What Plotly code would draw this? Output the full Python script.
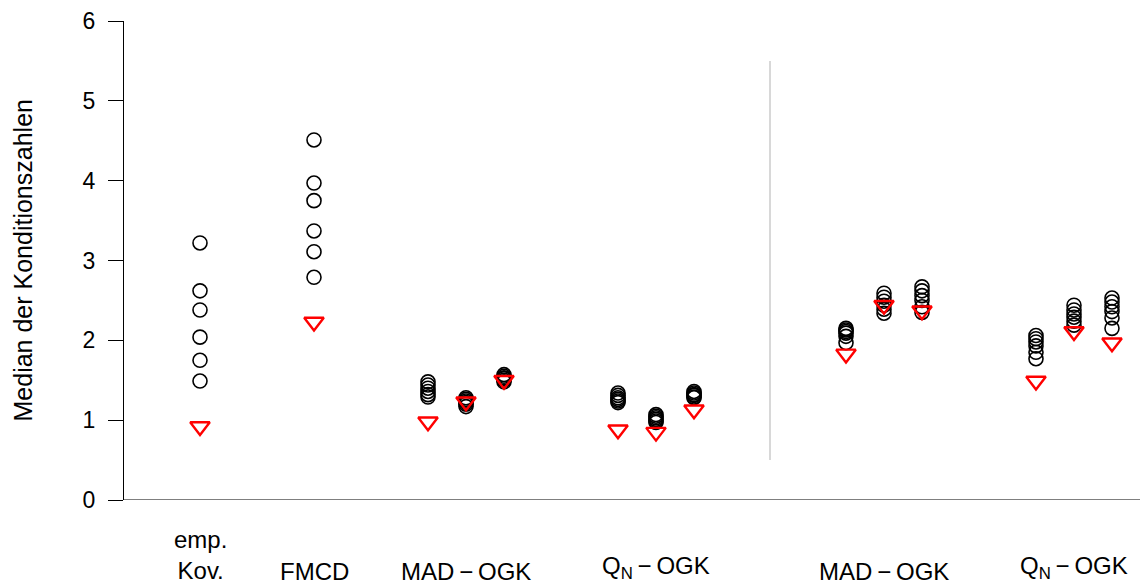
import plotly.graph_objects as go

# Median condition numbers per estimator group (open circles) and the
# reference value for each group (red triangles).
group_labels = ["emp. Kov.", "FMCD",
                "MAD-OGK a", "MAD-OGK b", "MAD-OGK c",
                "QN-OGK a", "QN-OGK b", "QN-OGK c",
                "MAD-OGK d", "MAD-OGK e", "MAD-OGK f",
                "QN-OGK d", "QN-OGK e", "QN-OGK f"]

circle_values = [
    [3.22, 2.62, 2.38, 2.04, 1.75, 1.49],
    [4.51, 3.97, 3.75, 3.37, 3.11, 2.79],
    [1.48, 1.44, 1.40, 1.36, 1.32, 1.29],
    [1.28, 1.26, 1.24, 1.22, 1.20, 1.17],
    [1.57, 1.55, 1.53, 1.52, 1.50, 1.48],
    [1.34, 1.31, 1.28, 1.26, 1.24, 1.22],
    [1.07, 1.05, 1.03, 1.01, 0.99, 0.97],
    [1.36, 1.34, 1.32, 1.31, 1.29, 1.28],
    [2.15, 2.13, 2.11, 2.09, 2.05, 1.97],
    [2.59, 2.54, 2.49, 2.44, 2.39, 2.34],
    [2.67, 2.62, 2.56, 2.50, 2.42, 2.35],
    [2.06, 2.02, 1.98, 1.93, 1.85, 1.77],
    [2.44, 2.38, 2.33, 2.29, 2.24, 2.19],
    [2.53, 2.48, 2.42, 2.36, 2.28, 2.15],
]

triangle_values = [0.92, 2.23, 0.98, 1.23, 1.50, 0.88, 0.85, 1.13,
                   1.83, 2.44, 2.37, 1.49, 2.11, 1.97]

y_ticks = [0, 1, 2, 3, 4, 5, 6]
y_title = "Median der Konditionszahlen"

# Horizontal slot of each group on the x scale
slots = [1, 4, 7, 8, 9, 12, 13, 14, 18, 19, 20, 23, 24, 25]
divider_slot = 16

# Category captions under the axis: (text, slot, vertical shift in px)
captions = [
    ("emp.<br>Kov.", 1, -55),
    ("FMCD", 4, -71),
    ("MAD\u2009\u2212\u2009OGK", 8, -71),
    ("Q<sub>N</sub>\u2009\u2212\u2009OGK", 13, -67),
    ("MAD\u2009\u2212\u2009OGK", 19, -71),
    ("Q<sub>N</sub>\u2009\u2212\u2009OGK", 24, -67),
]

FONT = "Liberation Sans, Arial, sans-serif"

fig = go.Figure()

cx, cy = [], []
for s, vals in zip(slots, circle_values):
    cx += [s] * len(vals)
    cy += vals

fig.add_trace(go.Scatter(
    x=cx, y=cy, mode="markers", cliponaxis=False, showlegend=False,
    marker=dict(symbol="circle-open", size=14, color="black",
                line=dict(width=1.6, color="black")),
))

fig.add_trace(go.Scatter(
    x=slots, y=triangle_values, mode="markers", cliponaxis=False,
    showlegend=False,
    marker=dict(symbol="triangle-down-open", size=17, color="red",
                line=dict(width=2.4, color="red")),
))

# Separator between the two halves of the display
fig.add_shape(type="line", x0=divider_slot, x1=divider_slot, y0=0.5, y1=5.5,
              xref="x", yref="y", line=dict(color="#BEBEBE", width=1.2))

for text, s, dy in captions:
    fig.add_annotation(x=s, y=0, xref="x", yref="y", text=text,
                       showarrow=False, yanchor="middle", yshift=dy,
                       font=dict(family=FONT, size=24, color="black"))

# Vertical axis title
fig.add_annotation(x=0, y=3, xref="paper", yref="y", text=y_title,
                   showarrow=False, textangle=-90, xanchor="center",
                   yanchor="middle", xshift=-102,
                   font=dict(family=FONT, size=25, color="black"))

fig.update_layout(
    width=1140, height=584,
    margin=dict(l=124, r=0, t=21, b=84),
    paper_bgcolor="white", plot_bgcolor="white",
    font=dict(family=FONT, size=22, color="black"),
    xaxis=dict(range=[-1, 25.737], showgrid=False, zeroline=False,
               showticklabels=False, ticks="", showline=False),
    yaxis=dict(range=[0, 6], tickvals=y_ticks, showgrid=False,
               zeroline=False, showline=True, linecolor="black",
               linewidth=1.2, ticks="outside", ticklen=15, tickwidth=1.2,
               tickcolor="black", ticklabelstandoff=8,
               tickfont=dict(family=FONT, size=23, color="black")),
)

# Bottom axis line across the full plotting width
fig.add_shape(type="line", x0=0, x1=1, xref="paper", y0=0, y1=0, yref="y",
              line=dict(color="black", width=1.2))

fig.write_html("out.html")
